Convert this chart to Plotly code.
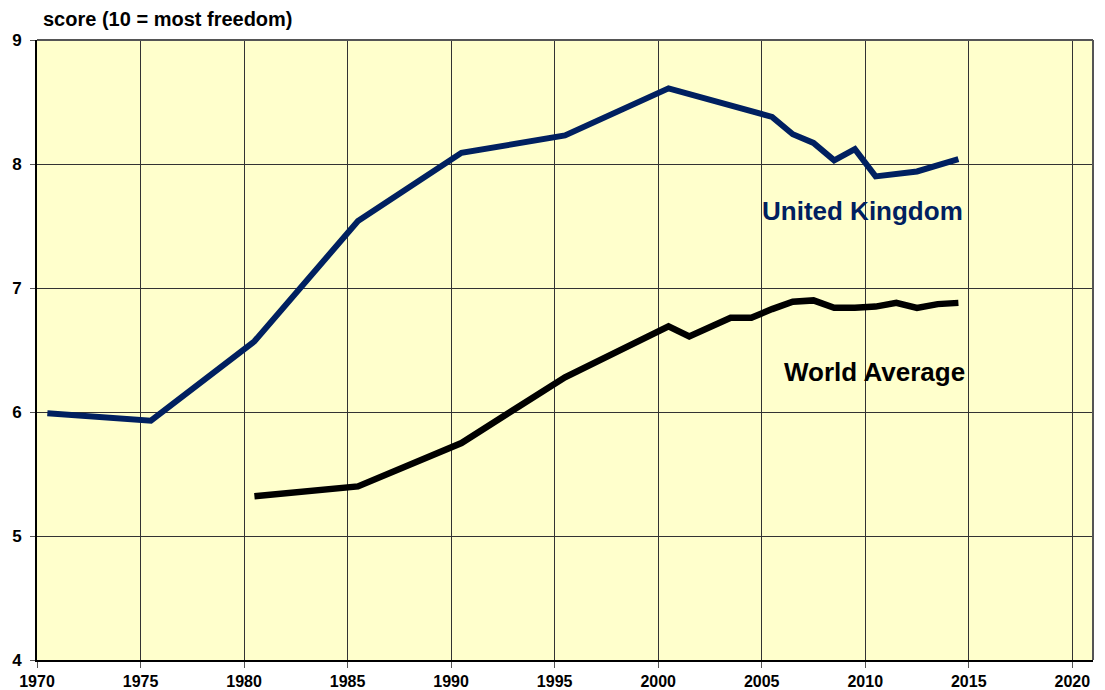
import plotly.graph_objects as go

uk_years = [1970.5, 1975.5, 1980.5, 1985.5, 1990.5, 1995.5, 2000.5, 2005.5, 2006.5,
            2007.5, 2008.5, 2009.5, 2010.5, 2012.5, 2014.5]
uk_scores = [5.99, 5.93, 6.57, 7.54, 8.09, 8.23, 8.61, 8.38, 8.24,
             8.17, 8.03, 8.12, 7.90, 7.94, 8.04]

world_years = [1980.5, 1985.5, 1990.5, 1995.5, 2000.5, 2001.5, 2003.5, 2004.5, 2005.5,
               2006.5, 2007.5, 2008.5, 2009.5, 2010.5, 2011.5, 2012.5, 2013.5, 2014.5]
world_scores = [5.32, 5.40, 5.75, 6.28, 6.69, 6.61, 6.76, 6.76, 6.83,
                6.89, 6.90, 6.84, 6.84, 6.85, 6.88, 6.84, 6.87, 6.88]

x_ticks = [1970, 1975, 1980, 1985, 1990, 1995, 2000, 2005, 2010, 2015, 2020]
y_ticks = [4, 5, 6, 7, 8, 9]

UK_COLOR = "#002060"
FONT = "Liberation Sans, Arial, sans-serif"

fig = go.Figure()
fig.add_trace(go.Scatter(x=uk_years, y=uk_scores, mode="lines",
                         line=dict(color=UK_COLOR, width=6), name="United Kingdom",
                         hoverinfo="x+y"))
fig.add_trace(go.Scatter(x=world_years, y=world_scores, mode="lines",
                         line=dict(color="#000000", width=6.5), name="World Average",
                         hoverinfo="x+y"))

fig.add_annotation(x=2009.85, y=7.62, text="<b>United Kingdom</b>", showarrow=False,
                   font=dict(family=FONT, size=26, color=UK_COLOR))
fig.add_annotation(x=2010.47, y=6.32, text="<b>World Average</b>", showarrow=False,
                   font=dict(family=FONT, size=26, color="#000000"))
fig.add_annotation(xref="paper", yref="paper", x=0.0038, y=1.034, xanchor="left",
                   yanchor="middle", text="<b>score (10 = most freedom)</b>", showarrow=False,
                   font=dict(family=FONT, size=20, color="#000000"))

# top/right frame
fig.add_shape(type="line", xref="paper", yref="paper", x0=0, x1=1, y0=1, y1=1,
              line=dict(color="#555555", width=2))
fig.add_shape(type="line", xref="paper", yref="paper", x0=1, x1=1, y0=0, y1=1,
              line=dict(color="#555555", width=2))

fig.update_layout(
    width=1105, height=690,
    margin=dict(l=37, r=12, t=40, b=30),
    paper_bgcolor="#FFFFFF", plot_bgcolor="#FFFFCC",
    showlegend=False,
    font=dict(family=FONT, color="#000000"),
    xaxis=dict(range=[1970, 2021], tickvals=x_ticks, ticktext=[f"<b>{v}</b>" for v in x_ticks],
               showgrid=True, gridcolor="#333333", gridwidth=1, zeroline=False,
               showline=True, linecolor="#000000", linewidth=2, automargin=False,
               ticks="outside", ticklen=6, tickcolor="#555555", tickwidth=1,
               tickfont=dict(family=FONT, size=16, color="#000000")),
    yaxis=dict(range=[4, 9], tickvals=y_ticks, ticktext=[f"<b>{v}</b>" for v in y_ticks],
               showgrid=True, gridcolor="#333333", gridwidth=1, zeroline=False,
               showline=True, linecolor="#000000", linewidth=2, automargin=False,
               ticks="outside", ticklen=5, tickcolor="#555555", tickwidth=1,
               ticklabelstandoff=5,
               tickfont=dict(family=FONT, size=17, color="#000000")),
)

fig.write_html("out.html", config={"displayModeBar": False},
               post_script="document.body.style.margin='0';document.body.style.overflow='hidden';")
